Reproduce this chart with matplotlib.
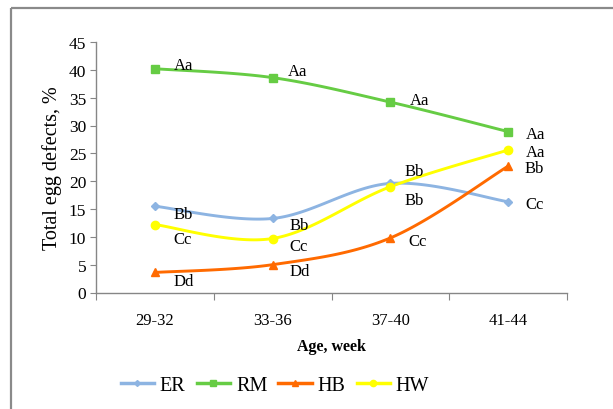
import numpy as np
import matplotlib
matplotlib.use("Agg")
import matplotlib.pyplot as plt
from matplotlib.patches import Rectangle
from matplotlib.lines import Line2D

categories = ["29-32", "33-36", "37-40", "41-44"]
er = [15.5, 13.3, 19.6, 16.3]
rm = [40.2, 38.6, 34.2, 28.9]
hb = [3.6, 5.0, 9.8, 22.7]
hw = [12.2, 9.7, 19.0, 25.6]
er_lab = ["Bb", "Bb", "Bb", "Cc"]
rm_lab = ["Aa", "Aa", "Aa", "Aa"]
hb_lab = ["Dd", "Dd", "Cc", "Bb"]
hw_lab = ["Cc", "Cc", "Bb", "Aa"]
series_names = ["ER", "RM", "HB", "HW"]

plt.rcParams['font.family'] = ['Liberation Serif', 'DejaVu Serif']

W, H = 613, 410
fig = plt.figure(figsize=(W/100, H/100), dpi=100)

# outer frame
fig.patches.append(Rectangle((11/W, 1 - 9/H), 1.0, -1.2, transform=fig.transFigure,
                             fill=False, edgecolor="#8a8a8a", linewidth=1.6, clip_on=False))

ax = fig.add_axes([96/W, 1 - 293.5/H, (567-96)/W, (293.5-43)/H])

def smooth(x, y, n=40):
    x = np.asarray(x, float); y = np.asarray(y, float)
    P = np.column_stack([x, y])
    k = len(P)
    out = []
    for i in range(k-1):
        p0 = P[i]; p3 = P[i+1]
        pm = P[i-1] if i > 0 else P[i]
        pp = P[i+2] if i+2 < k else P[i+1]
        c1 = p0 + (p3 - pm) / 6.0
        c2 = p3 - (pp - p0) / 6.0
        t = np.linspace(0, 1, n)[:, None]
        seg = (1-t)**3*p0 + 3*(1-t)**2*t*c1 + 3*(1-t)*t**2*c2 + t**3*p3
        out.append(seg if i == 0 else seg[1:])
    s = np.vstack(out)
    return s[:, 0], s[:, 1]

xs = np.arange(len(categories)) + 0.5
colors = ["#8DB4E2", "#66CC44", "#FF6A00", "#FFFF00"]
markers = ["D", "s", "^", "o"]
msizes = [4, 5.8, 6.3, 6]
data = [er, rm, hb, hw]
labels = [er_lab, rm_lab, hb_lab, hw_lab]
offsets = [
    [(19, -8), (17, -7), (14, 12), (17, -2)],
    [(19, 4), (15, 7), (19, 2), (18, -2)],
    [(19, -9), (17, -6), (18, -3), (16, -2)],
    [(19, -14), (17, -7), (14, -13), (18, -2)],
]

for vals, c, m, ms, labs, offs in zip(data, colors, markers, msizes, labels, offsets):
    sx, sy = smooth(xs, vals)
    ax.plot(sx, sy, color=c, lw=2.1, solid_capstyle='round', zorder=3)
    ax.plot(xs, vals, linestyle='none', marker=m, markersize=ms, color=c,
            markeredgecolor=c, zorder=4)
    for xi, v, lab, (dx, dy) in zip(xs, vals, labs, offs):
        ax.annotate(lab, (xi, v), xytext=(dx, dy), textcoords='offset pixels',
                    ha='left', va='center', fontsize=12, color='black', zorder=5)

ax.set_xlim(0, 4)
ax.set_ylim(0, 45)
ax.set_yticks(np.arange(0, 46, 5))
ax.set_xticks(np.arange(0, 5))
ax.set_xticklabels([])
ax.set_xticks(xs, minor=True)
ax.set_xticklabels(categories, minor=True)
ax.tick_params(axis='x', which='minor', length=0, pad=14, labelsize=12)
ax.tick_params(axis='x', which='major', length=5, color='#868686', direction='out')
ax.tick_params(axis='y', length=4, color='#868686', direction='out', labelsize=12.5, pad=3)
for s in ['top', 'right']:
    ax.spines[s].set_visible(False)
for s in ['left', 'bottom']:
    ax.spines[s].set_color('#868686')
    ax.spines[s].set_linewidth(1.0)

ax.set_xlabel("Age, week", fontsize=11.5, fontweight='bold', labelpad=7)
ax.set_ylabel("Total egg defects, %", fontsize=14.5, labelpad=5)

handles = [Line2D([0], [0], color=c, lw=2.5, marker=m, markersize=ms*0.75,
                  markeredgecolor=c) for c, m, ms in zip(colors, markers, msizes)]
fig.legend(handles, series_names, loc='center', bbox_to_anchor=(275/W, 1 - 386/H),
           ncol=4, frameon=False, fontsize=14.5, handlelength=1.65, handletextpad=0.3,
           columnspacing=0.55)

fig.savefig("out.png", dpi=100)
